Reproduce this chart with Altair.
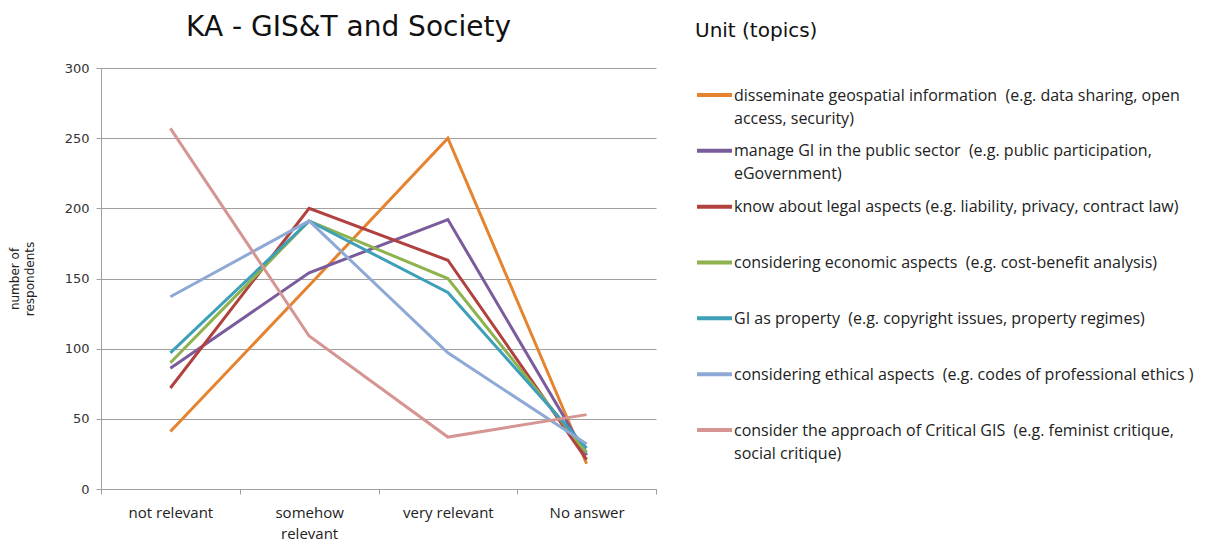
import altair as alt
import pandas as pd

categories = ["not relevant", "somehow relevant", "very relevant", "No answer"]

series = [
    "disseminate geospatial information",
    "manage GI in the public sector",
    "know about legal aspects",
    "considering economic aspects",
    "GI as property",
    "considering ethical aspects",
    "consider the approach of Critical GIS",
]

S2 = "\u00a0 "  # a visible double space, as in the original labels
legend_labels = [
    "disseminate geospatial information" + S2 + "(e.g. data sharing, open\naccess, security)",
    "manage GI in the public sector" + S2 + "(e.g. public participation,\neGovernment)",
    "know about legal aspects (e.g. liability, privacy, contract law)",
    "considering economic aspects" + S2 + "(e.g. cost-benefit analysis)",
    "GI as property" + S2 + "(e.g. copyright issues, property regimes)",
    "considering ethical aspects" + S2 + "(e.g. codes of professional ethics )",
    "consider the approach of Critical GIS" + S2 + "(e.g. feminist critique,\nsocial critique)",
]

colors = ["#E5832F", "#7A5C9C", "#B0413E", "#8DB24E", "#3D9FB8", "#8EA9D5", "#D59593"]

v_disseminate = [41, 145, 250, 18]
v_manage = [86, 154, 192, 24]
v_legal = [72, 200, 163, 21]
v_economic = [90, 191, 150, 26]
v_property = [97, 191, 140, 29]
v_ethical = [137, 191, 97, 32]
v_critical = [257, 109, 37, 53]

all_values = [v_disseminate, v_manage, v_legal, v_economic, v_property, v_ethical, v_critical]

rows = []
for si, (s, vals) in enumerate(zip(series, all_values)):
    for ci, (c, v) in enumerate(zip(categories, vals)):
        rows.append({"series": s, "cat": c, "value": v, "sidx": si, "cidx": ci})
df = pd.DataFrame(rows)

leg_df = pd.DataFrame({"series": series, "label": legend_labels})

grid_color = "#A0A0A0"

main = alt.Chart(df).mark_line(strokeWidth=3).encode(
    x=alt.X(
        "cat:N",
        sort=categories,
        bandPosition=0.5,
        scale=alt.Scale(type="band", paddingInner=0, paddingOuter=0),
        axis=alt.Axis(
            title=None,
            labelAngle=0,
            labelFont="Open Sans",
            labelFontSize=15,
            labelColor="#222222",
            labelPadding=11,
            labelLineHeight=21,
            labelExpr="datum.label == 'somehow relevant' ? ['somehow', 'relevant'] : datum.label",
            tickBand="extent",
            tickSize=5,
            tickColor=grid_color,
            domainColor=grid_color,
            grid=False,
        ),
    ),
    y=alt.Y(
        "value:Q",
        scale=alt.Scale(domain=[0, 300]),
        axis=alt.Axis(
            title=["number of", "respondents"],
            titleFont="DejaVu Sans",
            titleFontSize=12,
            titleFontWeight="normal",
            titleColor="#222222",
            titlePadding=28,
            titleLineHeight=15,
            values=[0, 50, 100, 150, 200, 250, 300],
            labelFont="DejaVu Sans",
            labelFontSize=13,
            labelColor="#333333",
            labelPadding=7,
            tickSize=5,
            tickColor=grid_color,
            domainColor=grid_color,
            gridColor=grid_color,
            gridWidth=1,
        ),
    ),
    color=alt.Color("series:N", sort=series, scale=alt.Scale(domain=series, range=colors), legend=None),
    order=alt.Order("cidx:Q"),
).properties(
    width=555,
    height=421,
    title=alt.TitleParams(
        "KA - GIS&T and Society",
        font="DejaVu Sans",
        fontSize=28,
        fontWeight="normal",
        color="#111111",
        anchor="middle",
        dx=-30,
        offset=20,
    ),
)

leg_y = alt.Y("series:N", sort=series, axis=None,
              scale=alt.Scale(type="point", domain=series, range=[27, 362], padding=0))

leg_rule = alt.Chart(leg_df).mark_rule(strokeWidth=4).encode(
    x=alt.value(0),
    x2=alt.value(35),
    y=leg_y,
    color=alt.Color("series:N", scale=alt.Scale(domain=series, range=colors), legend=None),
)

leg_text = alt.Chart(leg_df).mark_text(
    align="left", baseline="alphabetic", dy=5.5, lineBreak="\n", lineHeight=23,
    font="Open Sans", fontSize=16, color="#222222",
).encode(
    x=alt.value(37),
    y=leg_y,
    text="label:N",
)

legend = alt.layer(leg_rule, leg_text).properties(
    width=480,
    height=421,
    title=alt.TitleParams(
        "Unit (topics)",
        font="DejaVu Sans",
        fontSize=20,
        fontWeight="normal",
        color="#111111",
        anchor="start",
        offset=27,
    ),
)

chart = alt.hconcat(main, legend, spacing=38).configure_view(stroke=None).properties(
    padding={"left": 0, "top": 6, "right": 5, "bottom": 0}
).resolve_scale(color="shared")

chart.save("out.html", embed_options={"renderer": "svg", "actions": False})
